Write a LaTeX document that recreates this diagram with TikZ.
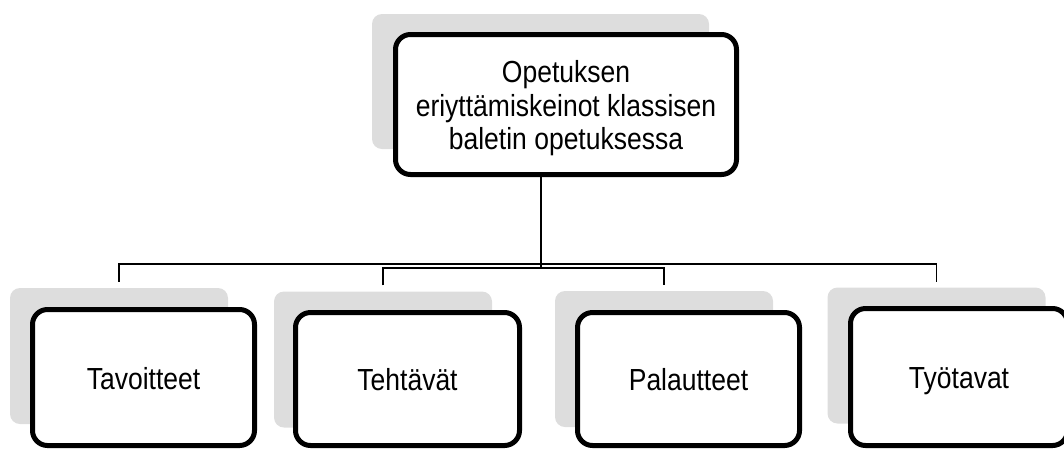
\documentclass[tikz,border=0pt]{standalone}
\usepackage{fontspec}
\setmainfont{Liberation Sans}
\usetikzlibrary{calc}
\definecolor{shadegray}{RGB}{221,221,221}
\newcommand{\boxtext}[1]{\raisebox{-5pt}[\height][\depth]{\scalebox{1}[1.15]{\fontsize{26.5}{29}\selectfont\begin{tabular}{@{}c@{}}#1\end{tabular}}}}
\begin{document}
\begin{tikzpicture}[x=1pt,y=-1pt,
  shade/.style={fill=shadegray, draw=none, rounded corners=10pt, inner sep=0pt},
  mainbox/.style={draw=black, fill=white, line width=5pt, rounded corners=15pt, inner sep=0pt, align=center},
  link/.style={draw=black, line width=1.5pt}]
\useasboundingbox (0,0) rectangle (1064,451);
% top
\node[shade, minimum width=337pt, minimum height=135pt] (stop) at (540.5,81.5) {};
\node[mainbox, minimum width=341pt, minimum height=140pt] (top) at (566,104.5)
  {\boxtext{Opetuksen\\eriyttämiskeinot klassisen\\baletin opetuksessa}};
% shadows bottom
\node[shade, minimum width=218pt, minimum height=136pt] (s1) at (119,356) {};
\node[shade, minimum width=218pt, minimum height=136pt] (s2) at (383,359.5) {};
\node[shade, minimum width=218pt, minimum height=136pt] (s3) at (664,359) {};
\node[shade, minimum width=218pt, minimum height=136pt] (s4) at (936.5,355.5) {};
% main boxes bottom
\node[mainbox, minimum width=222pt, minimum height=136pt] (b1) at (143.5,377.5) {\boxtext{Tavoitteet}};
\node[mainbox, minimum width=224pt, minimum height=133pt] (b2) at (407.5,379) {\boxtext{Tehtävät}};
\node[mainbox, minimum width=222pt, minimum height=133pt] (b3) at (688.5,379) {\boxtext{Palautteet}};
\node[mainbox, minimum width=217pt, minimum height=137pt] (b4) at (959,377) {\boxtext{Työtavat}};
% connector points
\coordinate (hA) at (541,264);
\coordinate (hB) at (541,268);
\coordinate (d1) at ($(s1.north)+(0,-6)$);
\coordinate (d2) at ($(s2.north)+(0,-6)$);
\coordinate (d3) at ($(s3.north)+(0,-6)$);
\coordinate (d4) at ($(s4.north)+(0,-5)$);
% connectors
\draw[link] (hA |- top.south) -- (hB);
\draw[link] (d1) -- (d1 |- hA) -- (d4 |- hA) -- (d4);
\draw[link] (d2) -- (d2 |- hB) -- (d3 |- hB) -- (d3);
\end{tikzpicture}
\end{document}
